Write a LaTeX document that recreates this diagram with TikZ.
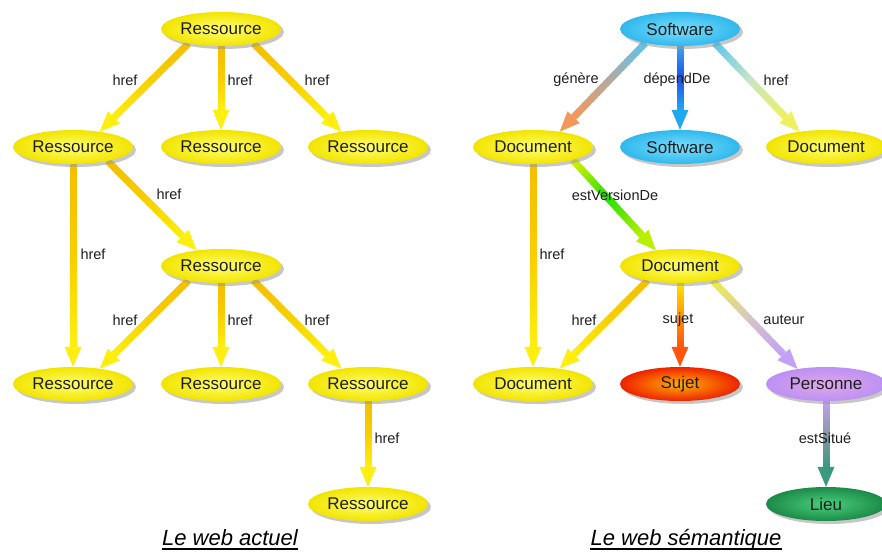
\documentclass[tikz,border=0pt]{standalone}
\usepackage{fontspec}
\setmainfont{Liberation Sans}
\usetikzlibrary{shapes.geometric,shadows,calc}

% node colours (centre / rim)
\definecolor{txt}{HTML}{1E1E1E}
\definecolor{ylwIn}{HTML}{FFFF70}
\definecolor{ylwOut}{HTML}{F2E400}
\definecolor{bluIn}{HTML}{7ADFFF}
\definecolor{bluOut}{HTML}{30B8EC}
\definecolor{redIn}{HTML}{FFB000}
\definecolor{redOut}{HTML}{EE2200}
\definecolor{lilIn}{HTML}{E0A8E8}
\definecolor{lilOut}{HTML}{BC90F4}
\definecolor{grnIn}{HTML}{48D07C}
\definecolor{grnOut}{HTML}{1C8A48}

% connector colours
\definecolor{goldA}{HTML}{F4BE00}
\definecolor{goldB}{HTML}{F8CE00}
\definecolor{goldC}{HTML}{FFEE10}
\definecolor{skyA}{HTML}{5CC4F0}
\definecolor{tanB}{HTML}{B4AAA0}
\definecolor{orgC}{HTML}{F4985A}
\definecolor{bluA}{HTML}{38A8F2}
\definecolor{bluB}{HTML}{2050E8}
\definecolor{bluC}{HTML}{20A8F2}
\definecolor{paleB}{HTML}{C8E6C4}
\definecolor{ylwC}{HTML}{EEF060}
\definecolor{ygA}{HTML}{E4F000}
\definecolor{ygB}{HTML}{22E000}
\definecolor{ygC}{HTML}{B8F000}
\definecolor{sjA}{HTML}{FFE400}
\definecolor{sjB}{HTML}{FF9A00}
\definecolor{sjC}{HTML}{FF5510}
\definecolor{auA}{HTML}{EEF040}
\definecolor{auB}{HTML}{D8C6C4}
\definecolor{auC}{HTML}{C4A0F8}
\definecolor{esA}{HTML}{C0A0F6}
\definecolor{esB}{HTML}{8898A6}
\definecolor{esC}{HTML}{3A9A80}

\pgfdeclarelayer{bg}
\pgfsetlayers{bg,main}

\tikzset{
  concept/.style={ellipse, minimum width=120pt, minimum height=34pt,
    inner sep=0pt, text=txt, font=\fontsize{17}{17}\selectfont,
    drop shadow={shadow xshift=3pt, shadow yshift=-3pt, fill=black!40, opacity=0.55}},
  nodeYellow/.style={concept, inner color=ylwIn, outer color=ylwOut},
  nodeBlue/.style={concept, inner color=bluIn, outer color=bluOut},
  nodeRed/.style={concept, inner color=redIn, outer color=redOut},
  nodeLilac/.style={concept, inner color=lilIn, outer color=lilOut},
  nodeGreen/.style={concept, inner color=grnIn, outer color=grnOut},
  lbl/.style={font=\fontsize{14.5}{14.5}\selectfont, text=txt, inner sep=0pt},
  ttl/.style={font=\fontsize{22}{22}\selectfont\itshape, text=black, inner sep=0pt, anchor=base},
}

% thick arrow from #1 to #2, shaded #3 -> #4 -> #5 along its length
\newcommand\gedge[5]{%
  \path (#1) coordinate (gs) (#2) coordinate (ge);
  \path ($(ge)!20pt!(gs)$) coordinate (gb);
  \foreach \k in {1,...,24} {
    \pgfmathsetmacro\ta{(\k-1)/24}
    \pgfmathsetmacro\tb{min(1,\k/24+0.012)}
    \pgfmathsetmacro\tm{(\k-0.5)/24}
    \ifdim\tm pt<0.5pt
      \pgfmathsetmacro\pct{200*\tm}
      \colorlet{segc}{#4!\pct!#3}
    \else
      \pgfmathsetmacro\pct{200*(\tm-0.5)}
      \colorlet{segc}{#5!\pct!#4}
    \fi
    \draw[line width=7pt, color=segc] ($(gs)!\ta!(gb)$) -- ($(gs)!\tb!(gb)$);
  }
  \fill[#5] ($(gb)!8.5pt!90:(ge)$) -- (ge) -- ($(gb)!8.5pt!-90:(ge)$) -- cycle;
}

\begin{document}
\begin{tikzpicture}[x=1pt,y=-1pt]
\useasboundingbox (0,0) rectangle (882,553);

% ---- current web ----
\node[nodeYellow] (R0) at (221,29)  {Ressource};
\node[nodeYellow] (R1) at (73,147)  {Ressource};
\node[nodeYellow] (R2) at (221,147) {Ressource};
\node[nodeYellow] (R3) at (368,147) {Ressource};
\node[nodeYellow] (R4) at (221,266) {Ressource};
\node[nodeYellow] (R5) at (73,384)  {Ressource};
\node[nodeYellow] (R6) at (221,384) {Ressource};
\node[nodeYellow] (R7) at (368,384) {Ressource};
\node[nodeYellow] (R8) at (368,504) {Ressource};

% ---- semantic web ----
\node[nodeBlue]   (S0) at (680,29)  {Software};
\node[nodeYellow] (D1) at (533,147) {Document};
\node[nodeBlue]   (S1) at (680,147) {Software};
\node[nodeYellow] (D2) at (826,147) {Document};
\node[nodeYellow] (D3) at (680,266) {Document};
\node[nodeYellow] (D4) at (533,384) {Document};
\node[nodeRed]    (SJ) at (680,384) {Sujet};
\node[nodeLilac]  (PE) at (826,384) {Personne};
\node[nodeGreen]  (LI) at (826,504) {Lieu};

\begin{pgfonlayer}{bg}
  \gedge{R0.204}{R1.30}{goldA}{goldB}{goldC}
  \gedge{R0.south}{R2.north}{goldA}{goldB}{goldC}
  \gedge{R0.336}{R3.150}{goldA}{goldB}{goldC}
  \gedge{R1.338}{R4.147}{goldA}{goldB}{goldC}
  \gedge{R1.south}{R5.north}{goldA}{goldB}{goldC}
  \gedge{R4.204}{R5.30}{goldA}{goldB}{goldC}
  \gedge{R4.south}{R6.north}{goldA}{goldB}{goldC}
  \gedge{R4.336}{R7.150}{goldA}{goldB}{goldC}
  \gedge{R7.south}{R8.north}{goldA}{goldB}{goldC}

  \gedge{S0.202}{D1.30}{skyA}{tanB}{orgC}
  \gedge{S0.south}{S1.north}{bluA}{bluB}{bluC}
  \gedge{S0.338}{D2.150}{skyA}{paleB}{ylwC}
  \gedge{D1.342}{D3.147}{ygA}{ygB}{ygC}
  \gedge{D1.south}{D4.north}{goldA}{goldB}{goldC}
  \gedge{D3.204}{D4.30}{goldA}{goldB}{goldC}
  \gedge{D3.south}{SJ.north}{sjA}{sjB}{sjC}
  \gedge{D3.336}{PE.152}{auA}{auB}{auC}
  \gedge{PE.south}{LI.north}{esA}{esB}{esC}
\end{pgfonlayer}

% ---- edge labels ----
\node[lbl] (l1)  at (125,80)  {href};
\node[lbl] (l2)  at (240,80)  {href};
\node[lbl] (l3)  at (317,80)  {href};
\node[lbl] (l4)  at (169,194) {href};
\node[lbl] (l5)  at (93,254)  {href};
\node[lbl] (l6)  at (125,320) {href};
\node[lbl] (l7)  at (240,320) {href};
\node[lbl] (l8)  at (317,320) {href};
\node[lbl] (l9)  at (387,438) {href};

\node[lbl] (m1)  at (576,80)  {génère};
\node[lbl] (m2)  at (677,80)  {dépendDe};
\node[lbl] (m3)  at (776,80)  {href};
\node[lbl] (m4)  at (615,195) {estVersionDe};
\node[lbl] (m5)  at (552,254) {href};
\node[lbl] (m6)  at (584,320) {href};
\node[lbl] (m7)  at (678,320) {sujet};
\node[lbl] (m8)  at (784,320) {auteur};
\node[lbl] (m9)  at (825,438) {estSitué};

% ---- captions ----
\node[ttl] (T1) at (230,545) {Le web actuel};
\draw[line width=1.6pt] ([yshift=-4pt]T1.base west) -- ([yshift=-4pt]T1.base east);
\node[ttl] (T2) at (686,545) {Le web sémantique};
\draw[line width=1.6pt] ([yshift=-4pt]T2.base west) -- ([yshift=-4pt]T2.base east);
\end{tikzpicture}
\end{document}
